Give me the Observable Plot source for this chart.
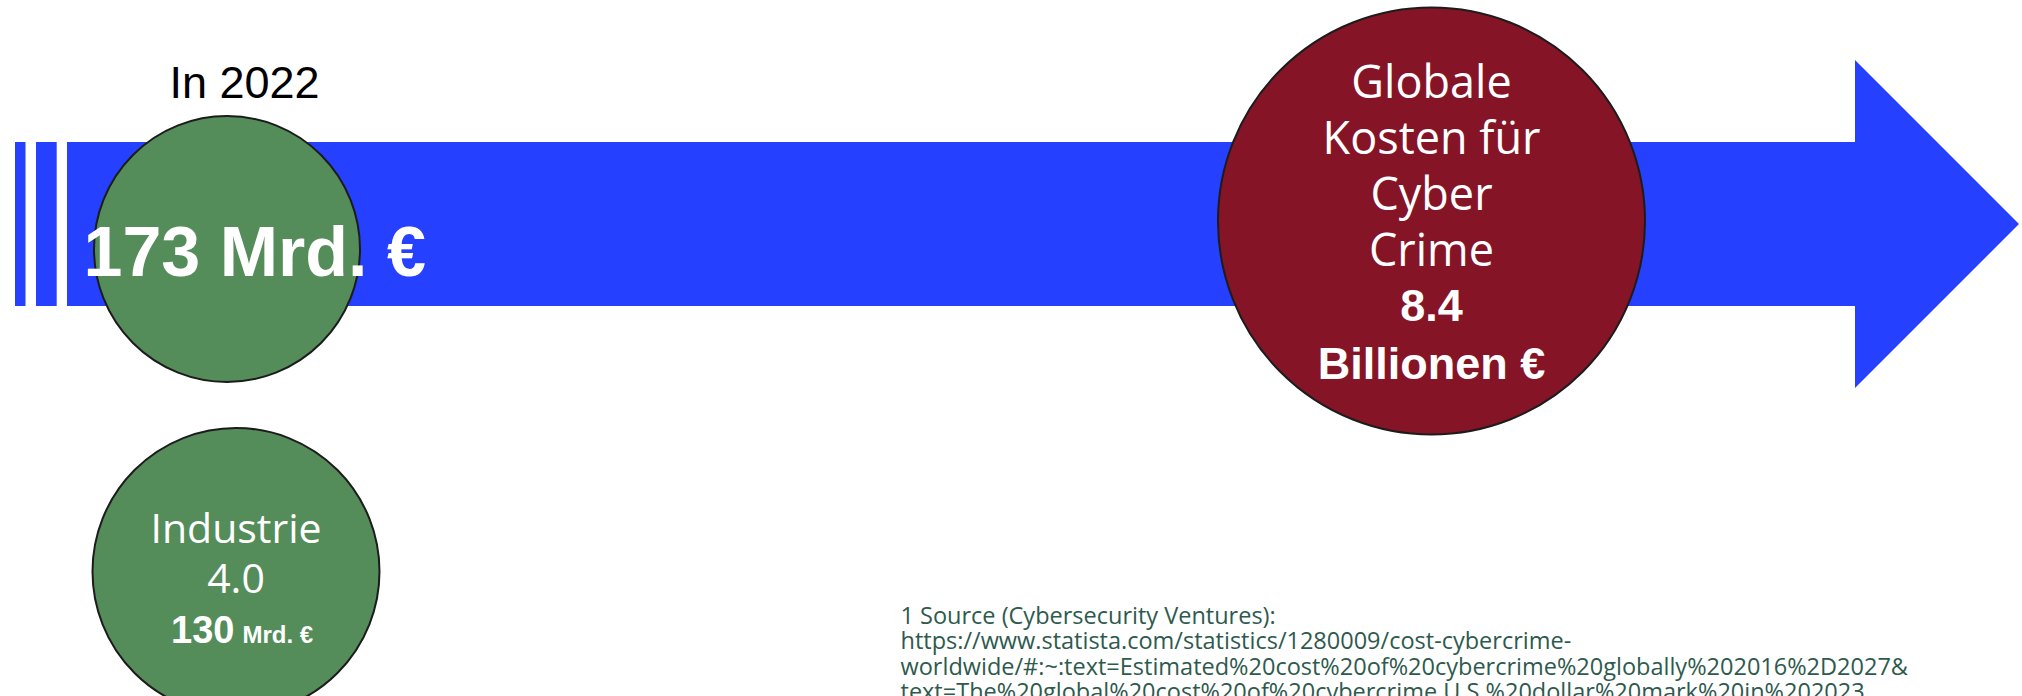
<!DOCTYPE html>
<html>
<head>
<meta charset="utf-8">
<script src="https://cdn.jsdelivr.net/npm/d3@7"></script>
<script src="https://cdn.jsdelivr.net/npm/@observablehq/plot@0.6"></script>
<style>
  html, body { margin: 0; padding: 0; background: #ffffff; overflow: hidden; }
  #chart svg { display: block; }
</style>
</head>
<body>
<div id="chart"></div>
<script>
// ---------- data ----------
const yearLabel = "In 2022";
const totalValue = "173";
const totalUnit = "Mrd. €";
const industryLines = ["Industrie", "4.0"];
const industryValue = "130";
const industryUnit = "Mrd. €";
const globalLines = ["Globale", "Kosten für", "Cyber", "Crime"];
const globalValue = "8.4";
const globalUnit = "Billionen €";
const sourceLines = [
  "1 Source (Cybersecurity Ventures):",
  "https://www.statista.com/statistics/1280009/cost-cybercrime-",
  "worldwide/#:~:text=Estimated%20cost%20of%20cybercrime%20globally%202016%2D2027&",
  "text=The%20global%20cost%20of%20cybercrime,U.S.%20dollar%20mark%20in%202023."
];

// ---------- layout (canvas units) ----------
const W = 2022, H = 696;
const colors = {blue: "#2640ff", green: "#548c5a", red: "#861427", ink: "#1c1c1c", note: "#2e5a4e"};
const bar = {x1: 67, x2: 1857, y1: 142, y2: 306};
const stripes = [{x1: 15, x2: 25.5}, {x1: 36, x2: 56.7}];
const head = [{x: 1855, y1: 60, y2: 388}, {x: 2019, y1: 224, y2: 224}];
const circles = [
  {key: "total", x: 226.5, y: 248.5, r: 133, fill: colors.green},
  {key: "industry", x: 235.5, y: 571, r: 143.5, fill: colors.green},
  {key: "global", x: 1431, y: 220.5, r: 213.5, fill: colors.red}
];
const globalBaselines = [97, 153, 209, 265];
const globalBoldBaselines = [320, 378];
const industryBaselines = [542, 592];
const sourceBaselines = [623, 648.5, 674, 699.5];

const sans = "'Open Sans', 'Noto Sans', sans-serif";
const arial = "'Liberation Sans', Arial, sans-serif";

const plot = Plot.plot({
  width: W,
  height: H,
  margin: 0,
  x: {domain: [0, W], range: [0, W], axis: null},
  y: {domain: [0, H], range: [0, H], axis: null},
  r: {type: "identity"},
  marks: [
    // arrow body + stripes
    Plot.rect([bar], {x1: "x1", x2: "x2", y1: "y1", y2: "y2", fill: colors.blue}),
    Plot.rect(stripes, {x1: "x1", x2: "x2", y1: () => bar.y1, y2: () => bar.y2, fill: colors.blue}),
    // arrow head
    Plot.areaY(head, {x: "x", y1: "y1", y2: "y2", fill: colors.blue, curve: "linear"}),
    // circles
    Plot.dot(circles, {x: "x", y: "y", r: "r", fill: "fill", stroke: colors.ink, strokeWidth: 2}),
    // year label
    Plot.text([yearLabel], {x: () => 244, y: () => 97, text: d => d, lineAnchor: "bottom",
      fontFamily: arial, fontSize: 45, fill: "#000"}),
    // 173 Mrd. €
    Plot.text([`${totalValue} ${totalUnit}`], {x: () => 83, y: () => 275, text: d => d,
      textAnchor: "start", lineAnchor: "bottom", fontFamily: arial, fontWeight: "bold", fontSize: 70, fill: "#fff"}),
    // global cost circle
    Plot.text(globalLines, {x: () => 1431, y: (d, i) => globalBaselines[i], text: d => d, lineAnchor: "bottom",
      fontFamily: sans, fontSize: 45, fill: "#fff"}),
    Plot.text([globalValue, globalUnit], {x: () => 1431, y: (d, i) => globalBoldBaselines[i], text: d => d,
      lineAnchor: "bottom", fontFamily: arial, fontWeight: "bold", fontSize: 45, fill: "#fff"}),
    // industry circle
    Plot.text(industryLines, {x: () => 235.5, y: (d, i) => industryBaselines[i], text: d => d, lineAnchor: "bottom",
      fontFamily: sans, fontSize: 41, fill: "#fff"}),
    Plot.text([industryValue], {x: () => 234, y: () => 642, text: d => d, textAnchor: "end", lineAnchor: "bottom",
      fontFamily: arial, fontWeight: "bold", fontSize: 38, fill: "#fff"}),
    Plot.text([industryUnit], {x: () => 242, y: () => 642, text: d => d, textAnchor: "start", lineAnchor: "bottom",
      fontFamily: arial, fontWeight: "bold", fontSize: 24, fill: "#fff"}),
    // source note
    Plot.text(sourceLines, {x: () => 900, y: (d, i) => sourceBaselines[i], text: d => d, textAnchor: "start",
      lineAnchor: "bottom", fontFamily: sans, fontSize: 23.5, fill: colors.note})
  ]
});
document.getElementById("chart").appendChild(plot);
</script>
</body>
</html>
